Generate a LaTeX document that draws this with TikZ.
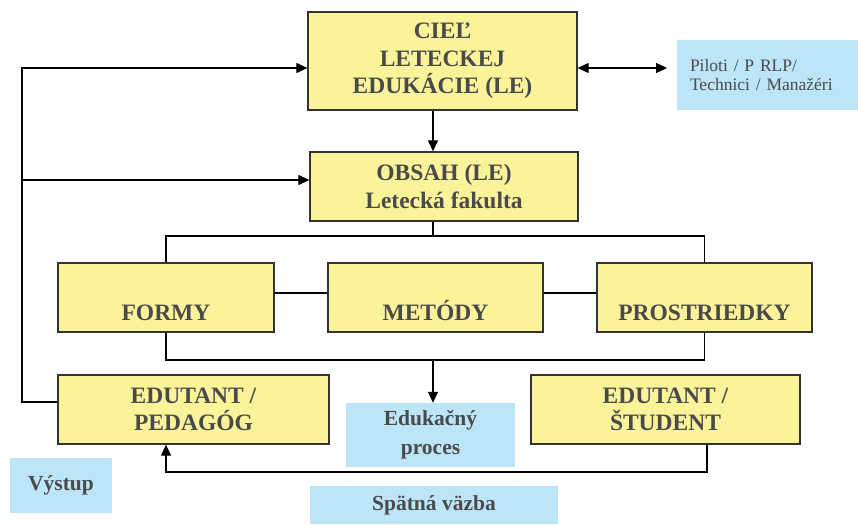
\documentclass[tikz,border=0pt]{standalone}
\usepackage{fontspec}
\setmainfont{Liberation Serif}
\usetikzlibrary{arrows.meta}

\definecolor{boxyellow}{HTML}{FAF39A}
\definecolor{boxblue}{HTML}{BDE5F8}
\definecolor{txtgray}{HTML}{4A4A4A}

\begin{document}
\begin{tikzpicture}[x=1pt,y=-1pt,text centered,
    ybox/.style={draw=black!80,line width=1.3pt,fill=boxyellow,inner sep=0pt,
      text=txtgray,font=\fontsize{23.5}{27.5}\selectfont\bfseries,align=center},
    bbox/.style={fill=boxblue,inner sep=0pt,text=txtgray,
      font=\fontsize{21.5}{29}\selectfont\bfseries,align=center},
    ylbl/.style={yshift=-14.5pt,text height=16pt,text depth=0pt,inner sep=0pt,
      text=txtgray,font=\fontsize{23.5}{27.5}\selectfont\bfseries},
    conn/.style={line width=1.2pt,black},
    tip/.tip={Triangle[length=11pt,width=10pt]},
    arr/.style={conn,-tip}]
    \useasboundingbox (0,0) rectangle (858,524);

    % main boxes
    \node [ybox,minimum width=269pt,minimum height=98pt] (ciel) at (442.5,61) {CIEĽ\\LETECKEJ\\EDUKÁCIE (LE)};
    \node [ybox,minimum width=268pt,minimum height=69pt] (obsah) at (444,186.5) {OBSAH (LE)\\Letecká fakulta};

    \node [ybox,minimum width=216pt,minimum height=69pt,label={[ylbl]center:FORMY}] (formy) at (166,297.5) {};
    \node [ybox,minimum width=215pt,minimum height=69pt,label={[ylbl]center:METÓDY}] (metody) at (435.5,297.5) {};
    \node [ybox,minimum width=215pt,minimum height=69pt,label={[ylbl]center:PROSTRIEDKY}] (prostr) at (704.5,297.5) {};

    \node [ybox,minimum width=271pt,minimum height=69pt] (pedagog) at (193.5,409.5) {EDUTANT /\\PEDAGÓG};
    \node [ybox,minimum width=269pt,minimum height=69pt] (student) at (665.5,409.5) {EDUTANT /\\ŠTUDENT};

    % blue boxes
    \node [bbox,minimum width=181pt,minimum height=70pt,align=left,
      font=\fontsize{17.5}{19}\selectfont,text width=155pt] (piloti) at (767.5,75) {Piloti / P RLP/\\Technici / Manažéri};
    \node [bbox,minimum width=169pt,minimum height=64pt] (proces) at (430.5,435) {Edukačný\\proces};
    \node [bbox,minimum width=102pt,minimum height=55pt] (vystup) at (61,485.5) {Výstup};
    \node [bbox,minimum width=248pt,minimum height=38pt] (vazba) at (434,505) {Spätná väzba};

    \coordinate (l1) at (22,68);
    \coordinate (l2) at (22,180);
    \coordinate (l3) at (22,402);
    \coordinate (pend) at (667,68);
    \coordinate (top) at (433,236);
    \coordinate (bot) at (433,360);

    % connectors
    \draw [arr] (ciel.south -| 433,0) -- (obsah.north -| 433,0);
    \draw [conn,tip-tip] (ciel.east |- l1) -- (pend);
    \draw [arr] (l3 -| pedagog.west) -- (l3) -- (l1) -- (l1 -| ciel.west);
    \draw [arr] (l2) -- (l2 -| obsah.west);

    \draw [conn] (obsah.south -| top) -- (top);
    \draw [conn] (formy.north) |- (top) -| (prostr.north);
    \draw [conn] (formy.east |- 0,293) -- (metody.west |- 0,293);
    \draw [conn] (metody.east |- 0,293) -- (prostr.west |- 0,293);
    \draw [conn] (formy.south) |- (bot) -| (prostr.south);
    \draw [arr] (bot) -- (proces.north -| bot);

    \draw [arr] (student.south -| 707,0) |- (166,472) -- (pedagog.south -| 166,0);
\end{tikzpicture}
\end{document}
